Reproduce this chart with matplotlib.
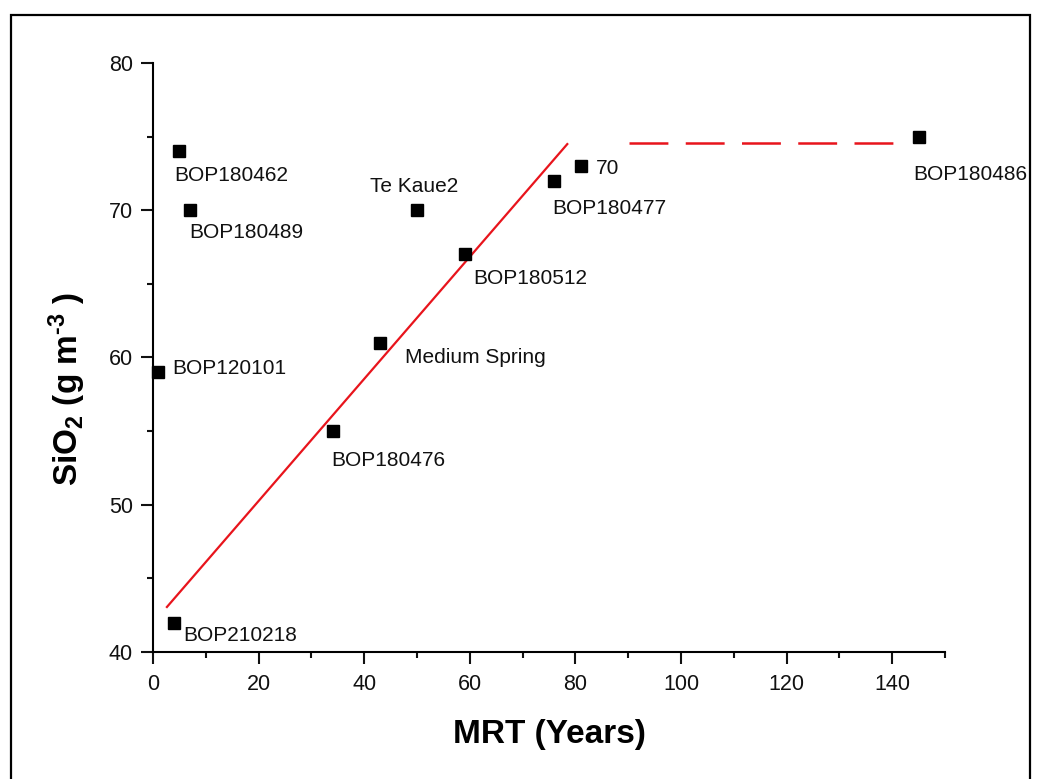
import matplotlib
matplotlib.use("Agg")
import matplotlib.pyplot as plt
from matplotlib.patches import Rectangle

# Sites: mean residence time (years) and dissolved silica (g m^-3)
sites = ["BOP180462", "BOP180489", "Te Kaue2", "BOP180512", "70", "BOP180477",
         "Medium Spring", "BOP180476", "BOP180486", "BOP120101", "BOP210218"]
mrt = [5, 7, 50, 59, 81, 76, 43, 34, 145, 1, 4]
sio2 = [74, 70, 70, 67, 73, 72, 61, 55, 75, 59, 42]

# Linear trend and plateau
trend_x = [2.5, 78.6]
trend_y = [43.0, 74.55]
plateau_x = [90.2, 140.9]
plateau_y = [74.6, 74.6]

x_ticks = [0, 20, 40, 60, 80, 100, 120, 140]
y_ticks = [40, 50, 60, 70, 80]

plt.rcParams["font.family"] = ["Liberation Sans", "DejaVu Sans"]
plt.rcParams["mathtext.fontset"] = "custom"
plt.rcParams["mathtext.rm"] = "Liberation Sans:bold"
plt.rcParams["mathtext.bf"] = "Liberation Sans:bold"
plt.rcParams["mathtext.default"] = "bf"
plt.rcParams["lines.scale_dashes"] = False

DPI = 100
W, H = 1039, 779
fig = plt.figure(figsize=(W / DPI, H / DPI), dpi=DPI)

# outer frame (open at the bottom)
fig.patches.append(Rectangle((11 / W, -0.05), (1030 - 11) / W, 1.05 - 15 / H,
                             transform=fig.transFigure, fill=False,
                             edgecolor="black", linewidth=1.6))

ax = fig.add_axes([153 / W, 1 - 652 / H, 792 / W, 589 / H])
ax.set_xlim(0, 150)
ax.set_ylim(40, 80)

ax.plot(trend_x, trend_y, color="#e8141c", linewidth=1.6, solid_capstyle="butt")
ax.plot(plateau_x, plateau_y, color="#e8141c", linewidth=1.8,
        dashes=(28, 12.5), dash_capstyle="butt")
ax.plot(mrt, sio2, linestyle="none", marker="s", markersize=8.2,
        color="black", clip_on=False, zorder=3)

# label offsets in pixels: (dx right, dy down to the cap centre), alignment
label_pos = {
    "BOP180462": (-5, 22, "left"),
    "BOP180489": (-1, 20, "left"),
    "Te Kaue2": (-3, -26, "center"),
    "BOP180512": (9, 22, "left"),
    "70": (15, 0, "left"),
    "BOP180477": (-2, 26, "left"),
    "Medium Spring": (25, 13, "left"),
    "BOP180476": (-1, 27, "left"),
    "BOP180486": (-5, 36, "left"),
    "BOP120101": (14, -6, "left"),
    "BOP210218": (9, 11, "left"),
}
px2pt = 72 / DPI
for name, x, y in zip(sites, mrt, sio2):
    dx, dy, ha = label_pos[name]
    ax.annotate(name, (x, y), xytext=(dx * px2pt, -(dy + 7.5) * px2pt),
                textcoords="offset points", ha=ha, va="baseline",
                fontsize=15, color="#111111")

for side in ("top", "right"):
    ax.spines[side].set_visible(False)
for side in ("left", "bottom"):
    ax.spines[side].set_linewidth(1.5)

ax.set_xticks(x_ticks)
ax.set_yticks(y_ticks)
ax.set_xticks([10, 30, 50, 70, 90, 110, 130, 150], minor=True)
ax.set_yticks([45, 55, 65, 75], minor=True)
ax.tick_params(which="major", direction="out", length=8.5, width=1.5,
               labelsize=15.5, color="#111111", labelcolor="#111111")
ax.tick_params(axis="x", which="major", pad=7)
ax.tick_params(axis="y", which="major", pad=6)
ax.tick_params(which="minor", direction="out", length=4.5, width=1.5,
               color="#111111")

ax.set_xlabel("MRT (Years)", fontsize=24, fontweight="bold")
ax.xaxis.label.set_verticalalignment("baseline")
ax.xaxis.set_label_coords(0.5, (652 - 743) / 589)

ax.set_ylabel(r"SiO$_2$ (g m$^{\text{-}3}$ )", fontsize=24, fontweight="bold")
ax.yaxis.label.set_verticalalignment("baseline")
ax.yaxis.set_label_coords((78 - 153) / 792, (652 - 388.5) / 589)

fig.savefig("out.png", dpi=DPI)
